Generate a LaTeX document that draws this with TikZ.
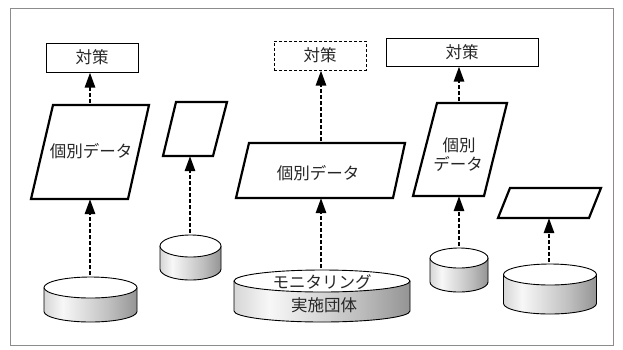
\documentclass[tikz,border=0pt]{standalone}
\usepackage{fontspec}
\newfontfamily\jpfont{Noto Sans CJK JP}
\usetikzlibrary{arrows.meta}
\pgfdeclarehorizontalshading{cylsh}{100bp}{color(0bp)=(black!60); color(22bp)=(black!20); color(35bp)=(black!3); color(60bp)=(black!25); color(100bp)=(black!70)}
\tikzset{
  boxstyle/.style={draw=black, line width=1pt, minimum height=29pt, inner sep=0pt, fill=white},
  dashbox/.style={boxstyle, dashed, dash pattern=on 3pt off 2pt},
  parastyle/.style={draw=black, line width=2.2pt, line join=miter, fill=white},
  flow/.style={line width=2.6pt, dash pattern=on 4pt off 2pt, shorten <=2pt, -{Triangle[length=15pt,width=10pt]}},
  cylshade/.style={shading=cylsh},
  cylline/.style={draw=black, line width=0.9pt},
  jtext/.style={text=black!85, font=\jpfont\fontsize{16.5}{19}\selectfont, inner sep=0pt}
}
\newcommand{\mycyl}[5]{%
  \shade[cylshade] (#1-#2,#3) rectangle (#1+#2,#4);
  \shade[cylshade] (#1,#4) ellipse[x radius=#2pt, y radius=#5pt];
  \draw[cylline] (#1-#2,#3) -- (#1-#2,#4) arc[start angle=180, end angle=360, x radius=#2pt, y radius=#5pt] -- (#1+#2,#3);
  \filldraw[cylline, fill=white] (#1,#3) ellipse[x radius=#2pt, y radius=#5pt];
}
\begin{document}
\begin{tikzpicture}[x=1pt, y=-1pt]
\useasboundingbox (0,0) rectangle (623,349);
\fill[white] (0,0) rectangle (623,349);
\draw[black!45, line width=1pt] (10,8) rectangle (613,345);

% boxes
\node[boxstyle, minimum width=92pt, jtext] (b1) at (92,57.5) {対策};
\node[dashbox, minimum width=92pt, jtext] (b2) at (320,55.5) {対策};
\node[boxstyle, minimum width=152pt, minimum height=28pt, jtext] (b3) at (462,52) {対策};

% parallelograms
\draw[parastyle] (53,105) -- (149,105) -- (128,199) -- (31,199) -- cycle;
\draw[parastyle] (176,102) -- (227,102) -- (213,156) -- (163,156) -- cycle;
\draw[parastyle] (249,143) -- (405,143) -- (393,198) -- (236,198) -- cycle;
\draw[parastyle] (437,103) -- (507,103) -- (484,196) -- (413,196) -- cycle;
\draw[parastyle] (510,188) -- (601,188) -- (589,218) -- (498,218) -- cycle;
\node[jtext] (t1) at (91,151) {個別データ};
\node[jtext] (t3) at (318,173) {個別データ};
\node[jtext] (t4a) at (459,145) {個別};
\node[jtext] (t4b) at (458,164) {データ};

\coordinate (p1t) at (90,105);  \coordinate (p1b) at (90,199);
\coordinate (p2b) at (190,156);
\coordinate (p3t) at (321,143); \coordinate (p3b) at (321,198);
\coordinate (p4t) at (459,103); \coordinate (p4b) at (459,196);
\coordinate (p5b) at (549,218);

% cylinders
\mycyl{90.5}{46.5}{287.5}{311.5}{10.5}
\mycyl{190.5}{30.5}{246}{269}{11}
\mycyl{322}{88}{281}{311}{11}
\mycyl{459}{29}{258}{282}{10}
\mycyl{550}{46.5}{274.5}{303.5}{10.5}
\coordinate (c1) at (90,277);
\coordinate (c2) at (190,235);
\coordinate (c3) at (321,270);
\coordinate (c4) at (459,248);
\coordinate (c5) at (549,264);
\node[jtext] (m1) at (322,282) {モニタリング};
\node[jtext] (m2) at (324,305) {実施団体};

% arrows
\draw[flow] (c1) -- (p1b);
\draw[flow] (p1t) -- (b1.south -| p1t);
\draw[flow] (c2) -- (p2b);
\draw[flow] (c3) -- (p3b);
\draw[flow] (p3t) -- (b2.south -| p3t);
\draw[flow] (c4) -- (p4b);
\draw[flow] (p4t) -- (b3.south -| p4t);
\draw[flow] (c5) -- (p5b);
\end{tikzpicture}
\end{document}
